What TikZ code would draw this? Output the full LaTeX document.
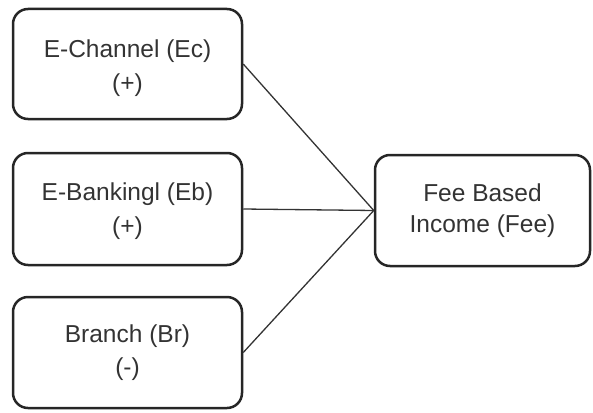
\documentclass[tikz,border=0pt]{standalone}
\usepackage{fontspec}
\setmainfont{Liberation Sans}
\begin{document}
\begin{tikzpicture}[x=1pt,y=-1pt,
  box/.style={draw=black!85, line width=2.5pt, rounded corners=15pt, inner sep=0pt},
  txt/.style={inner sep=0pt, align=center, font=\fontsize{24.5}{33.5}\selectfont, text=black!80},
  link/.style={draw=black!80, line width=1.3pt}]
\useasboundingbox (0,0) rectangle (593,412);
\node[box, minimum width=229pt, minimum height=110pt] (ec) at (127.5,64) {};
\node[box, minimum width=229pt, minimum height=112pt] (eb) at (127.5,209) {};
\node[box, minimum width=229pt, minimum height=111pt] (br) at (127.5,352.5) {};
\node[box, minimum width=215pt, minimum height=111pt] (fee) at (482.5,210.5) {};
\node[txt] (ect) at ([yshift=-4pt]ec.center) {E-Channel (Ec)\\(+)};
\node[txt] (ebt) at ([yshift=-2pt]eb.center) {E-Bankingl (Eb)\\(+)};
\node[txt] (brt) at (br.center) {Branch (Br)\\(-)};
\node[txt, font=\fontsize{24.5}{31}\selectfont] (feet) at (fee.center) {Fee Based\\Income (Fee)};
\draw[link] (ec.east) -- (fee.west);
\draw[link] (eb.east) -- (fee.west);
\draw[link] (br.east) -- (fee.west);
\end{tikzpicture}
\end{document}
